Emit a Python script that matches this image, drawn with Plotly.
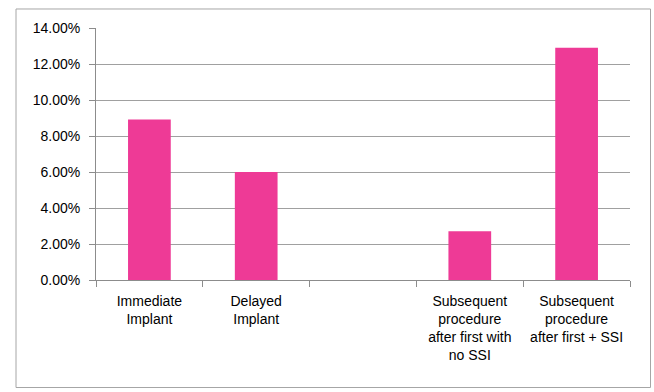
import plotly.graph_objects as go

categories = [
    "Immediate<br>Implant",
    "Delayed<br>Implant",
    " ",
    "Subsequent<br>procedure<br>after first with<br>no SSI",
    "Subsequent<br>procedure<br>after first + SSI",
]
values = [0.0892, 0.0600, None, 0.0271, 0.1290]
y_ticks = [0, 0.02, 0.04, 0.06, 0.08, 0.10, 0.12, 0.14]

FONT = "Liberation Sans"
GRID = "#A0A0A0"
AXIS = "#8C8C8C"

fig = go.Figure()
fig.add_trace(go.Bar(
    x=categories, y=values,
    marker=dict(color="#EE3A96", line=dict(width=0)),
    width=0.4,
))

fig.update_layout(
    width=654, height=392,
    margin=dict(l=96, r=24, t=28, b=112),
    paper_bgcolor="white", plot_bgcolor="white",
    showlegend=False,
    font=dict(family=FONT, size=14, color="#000000"),
    xaxis=dict(
        type="category",
        tickson="boundaries",
        ticks="outside", ticklen=6, tickcolor=AXIS, tickwidth=1,
        showline=True, linecolor=AXIS, linewidth=1,
        showgrid=False,
        tickfont=dict(family=FONT, size=14),
        ticklabelstandoff=8,
        range=[-0.5, 4.5],
    ),
    yaxis=dict(
        range=[0, 0.14],
        tickvals=y_ticks,
        tickformat=".2%",
        ticks="outside", ticklen=6, tickcolor=AXIS, tickwidth=1,
        showline=True, linecolor=AXIS, linewidth=1,
        showgrid=True, gridcolor=GRID, gridwidth=1,
        zeroline=False,
        tickfont=dict(family=FONT, size=14),
        ticklabelstandoff=6,
    ),
    shapes=[dict(
        type="rect", xref="paper", yref="paper",
        x0=-0.1498, x1=1.0384, y0=-0.4266, y1=1.0754,
        line=dict(color="#A6A6A6", width=1), fillcolor="rgba(0,0,0,0)",
        layer="below",
    )],
)

fig.write_html("out.html")
